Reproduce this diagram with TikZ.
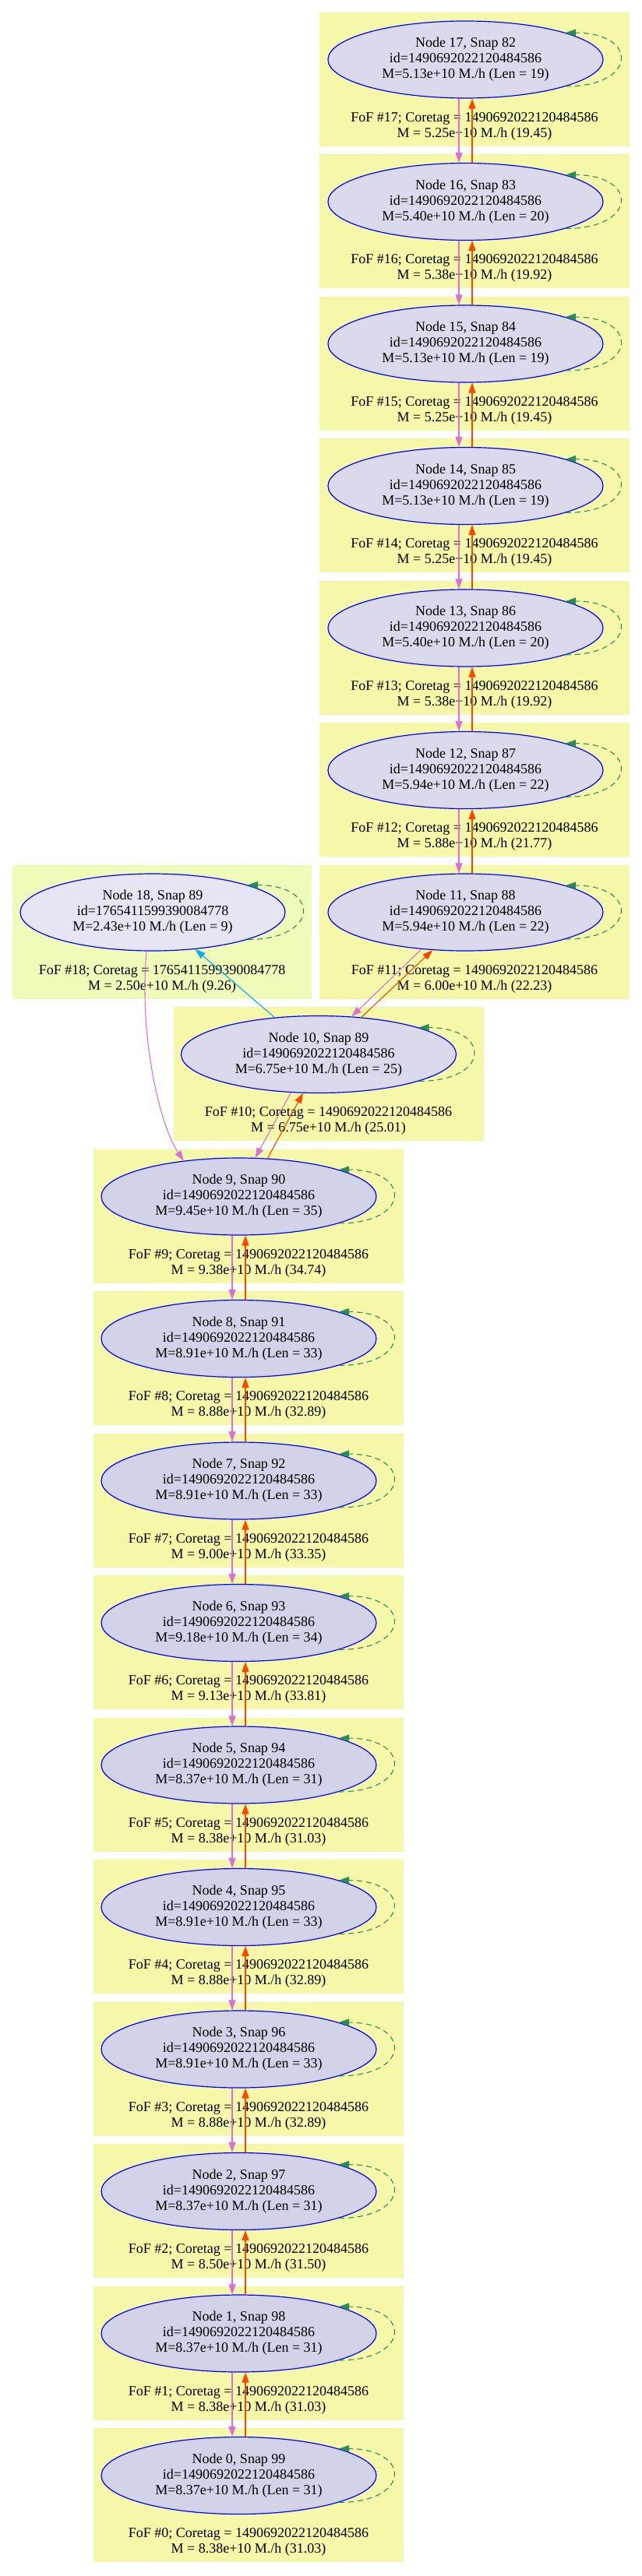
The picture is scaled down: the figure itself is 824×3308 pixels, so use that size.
\documentclass[tikz,border=0pt]{standalone}
\usepackage{fontspec}
\setmainfont{Liberation Serif}
\usetikzlibrary{arrows.meta,shapes.geometric}
\definecolor{fofyellow}{HTML}{F5F8A8}
\definecolor{fofgreen}{HTML}{EFFCB9}
\definecolor{halofill}{HTML}{DADAEC}
\definecolor{halofilllow}{HTML}{D2D3E8}
\definecolor{halofillalt}{HTML}{E6E5F4}
\definecolor{orchidline}{HTML}{DA70D6}
\definecolor{orangeline}{HTML}{FF4500}
\definecolor{loopgreen}{HTML}{2E8B57}
\begin{document}
\begin{tikzpicture}[x=1bp, y=1bp,
  txt/.style={font=\fontsize{18bp}{20bp}\selectfont, align=center},
  fofbox/.style={rectangle, fill=fofyellow, minimum width=398bp, minimum height=172bp, inner sep=0, outer sep=0},
  fofboxalt/.style={fofbox, fill=fofgreen, minimum width=384bp},
  halo/.style={txt, ellipse, draw=blue, line width=1.2bp, fill=halofill, minimum width=353bp, minimum height=99bp, inner sep=0},
  halolow/.style={halo, fill=halofilllow},
  haloalt/.style={halo, fill=halofillalt, minimum width=340bp},
  foflabel/.style={txt, inner sep=0},
  tip/.style={-{Triangle[length=13bp, width=9bp]}, line width=1.1bp},
  desc/.style={tip, orchidline},
  prog/.style={tip, orangeline},
  merge/.style={tip, cyan},
  selfloop/.style={tip, loopgreen, dash pattern=on 7bp off 5bp}]
\useasboundingbox (0,0) rectangle (824,-3308);
\node[fofbox] (fof17) at (609,-101.7){};
\node[fofbox] (fof16) at (609,-284.2){};
\node[fofbox] (fof15) at (609,-466.7){};
\node[fofbox] (fof14) at (609,-649.2){};
\node[fofbox] (fof13) at (609,-831.7){};
\node[fofbox] (fof12) at (609,-1014.2){};
\node[fofbox] (fof11) at (609,-1196.7){};
\node[fofboxalt] (fof18) at (208,-1196.7){};
\node[fofbox] (fof10) at (421.5,-1379.2){};
\node[fofbox] (fof9) at (319,-1561.7){};
\node[fofbox] (fof8) at (319,-1744.2){};
\node[fofbox] (fof7) at (319,-1926.7){};
\node[fofbox] (fof6) at (319,-2109.2){};
\node[fofbox] (fof5) at (319,-2291.7){};
\node[fofbox] (fof4) at (319,-2474.2){};
\node[fofbox] (fof3) at (319,-2656.7){};
\node[fofbox] (fof2) at (319,-2839.2){};
\node[fofbox] (fof1) at (319,-3021.7){};
\node[fofbox] (fof0) at (319,-3204.2){};
\node[foflabel] (lab17) at (609,-162.2){FoF \#17; Coretag = 1490692022120484586\\M = 5.25e+10 M./h (19.45)};
\node[foflabel] (lab16) at (609,-344.7){FoF \#16; Coretag = 1490692022120484586\\M = 5.38e+10 M./h (19.92)};
\node[foflabel] (lab15) at (609,-527.2){FoF \#15; Coretag = 1490692022120484586\\M = 5.25e+10 M./h (19.45)};
\node[foflabel] (lab14) at (609,-709.7){FoF \#14; Coretag = 1490692022120484586\\M = 5.25e+10 M./h (19.45)};
\node[foflabel] (lab13) at (609,-892.2){FoF \#13; Coretag = 1490692022120484586\\M = 5.38e+10 M./h (19.92)};
\node[foflabel] (lab12) at (609,-1074.7){FoF \#12; Coretag = 1490692022120484586\\M = 5.88e+10 M./h (21.77)};
\node[foflabel] (lab11) at (609,-1257.2){FoF \#11; Coretag = 1490692022120484586\\M = 6.00e+10 M./h (22.23)};
\node[foflabel] (lab18) at (208,-1257.2){FoF \#18; Coretag = 1765411599390084778\\M = 2.50e+10 M./h (9.26)};
\node[foflabel] (lab10) at (421.5,-1439.7){FoF \#10; Coretag = 1490692022120484586\\M = 6.75e+10 M./h (25.01)};
\node[foflabel] (lab9) at (319,-1622.2){FoF \#9; Coretag = 1490692022120484586\\M = 9.38e+10 M./h (34.74)};
\node[foflabel] (lab8) at (319,-1804.7){FoF \#8; Coretag = 1490692022120484586\\M = 8.88e+10 M./h (32.89)};
\node[foflabel] (lab7) at (319,-1987.2){FoF \#7; Coretag = 1490692022120484586\\M = 9.00e+10 M./h (33.35)};
\node[foflabel] (lab6) at (319,-2169.7){FoF \#6; Coretag = 1490692022120484586\\M = 9.13e+10 M./h (33.81)};
\node[foflabel] (lab5) at (319,-2352.2){FoF \#5; Coretag = 1490692022120484586\\M = 8.38e+10 M./h (31.03)};
\node[foflabel] (lab4) at (319,-2534.7){FoF \#4; Coretag = 1490692022120484586\\M = 8.88e+10 M./h (32.89)};
\node[foflabel] (lab3) at (319,-2717.2){FoF \#3; Coretag = 1490692022120484586\\M = 8.88e+10 M./h (32.89)};
\node[foflabel] (lab2) at (319,-2899.7){FoF \#2; Coretag = 1490692022120484586\\M = 8.50e+10 M./h (31.50)};
\node[foflabel] (lab1) at (319,-3082.2){FoF \#1; Coretag = 1490692022120484586\\M = 8.38e+10 M./h (31.03)};
\node[foflabel] (lab0) at (319,-3264.7){FoF \#0; Coretag = 1490692022120484586\\M = 8.38e+10 M./h (31.03)};
\node[halo] (nid17) at (597.5,-76.5){Node 17, Snap 82\\id=1490692022120484586\\M=5.13e+10 M./h (Len = 19)};
\node[halo] (nid16) at (597.5,-259){Node 16, Snap 83\\id=1490692022120484586\\M=5.40e+10 M./h (Len = 20)};
\node[halo] (nid15) at (597.5,-441.5){Node 15, Snap 84\\id=1490692022120484586\\M=5.13e+10 M./h (Len = 19)};
\node[halo] (nid14) at (597.5,-624){Node 14, Snap 85\\id=1490692022120484586\\M=5.13e+10 M./h (Len = 19)};
\node[halo] (nid13) at (597.5,-806.5){Node 13, Snap 86\\id=1490692022120484586\\M=5.40e+10 M./h (Len = 20)};
\node[halo] (nid12) at (597.5,-989){Node 12, Snap 87\\id=1490692022120484586\\M=5.94e+10 M./h (Len = 22)};
\node[halo] (nid11) at (597.5,-1171.5){Node 11, Snap 88\\id=1490692022120484586\\M=5.94e+10 M./h (Len = 22)};
\node[haloalt] (nid18) at (196,-1171.5){Node 18, Snap 89\\id=1765411599390084778\\M=2.43e+10 M./h (Len = 9)};
\node[halo] (nid10) at (409,-1354){Node 10, Snap 89\\id=1490692022120484586\\M=6.75e+10 M./h (Len = 25)};
\node[halolow] (nid9) at (306.5,-1536.5){Node 9, Snap 90\\id=1490692022120484586\\M=9.45e+10 M./h (Len = 35)};
\node[halolow] (nid8) at (306.5,-1719){Node 8, Snap 91\\id=1490692022120484586\\M=8.91e+10 M./h (Len = 33)};
\node[halolow] (nid7) at (306.5,-1901.5){Node 7, Snap 92\\id=1490692022120484586\\M=8.91e+10 M./h (Len = 33)};
\node[halolow] (nid6) at (306.5,-2084){Node 6, Snap 93\\id=1490692022120484586\\M=9.18e+10 M./h (Len = 34)};
\node[halolow] (nid5) at (306.5,-2266.5){Node 5, Snap 94\\id=1490692022120484586\\M=8.37e+10 M./h (Len = 31)};
\node[halolow] (nid4) at (306.5,-2449){Node 4, Snap 95\\id=1490692022120484586\\M=8.91e+10 M./h (Len = 33)};
\node[halolow] (nid3) at (306.5,-2631.5){Node 3, Snap 96\\id=1490692022120484586\\M=8.91e+10 M./h (Len = 33)};
\node[halolow] (nid2) at (306.5,-2814){Node 2, Snap 97\\id=1490692022120484586\\M=8.37e+10 M./h (Len = 31)};
\node[halolow] (nid1) at (306.5,-2996.5){Node 1, Snap 98\\id=1490692022120484586\\M=8.37e+10 M./h (Len = 31)};
\node[halolow] (nid0) at (306.5,-3179){Node 0, Snap 99\\id=1490692022120484586\\M=8.37e+10 M./h (Len = 31)};
\draw[desc]([xshift=-8.5bp]nid17.south) -- ([xshift=-8.5bp]nid16.north);
\draw[prog]([xshift=8.5bp]nid16.north) -- ([xshift=8.5bp]nid17.south);
\draw[desc]([xshift=-8.5bp]nid16.south) -- ([xshift=-8.5bp]nid15.north);
\draw[prog]([xshift=8.5bp]nid15.north) -- ([xshift=8.5bp]nid16.south);
\draw[desc]([xshift=-8.5bp]nid15.south) -- ([xshift=-8.5bp]nid14.north);
\draw[prog]([xshift=8.5bp]nid14.north) -- ([xshift=8.5bp]nid15.south);
\draw[desc]([xshift=-8.5bp]nid14.south) -- ([xshift=-8.5bp]nid13.north);
\draw[prog]([xshift=8.5bp]nid13.north) -- ([xshift=8.5bp]nid14.south);
\draw[desc]([xshift=-8.5bp]nid13.south) -- ([xshift=-8.5bp]nid12.north);
\draw[prog]([xshift=8.5bp]nid12.north) -- ([xshift=8.5bp]nid13.south);
\draw[desc]([xshift=-8.5bp]nid12.south) -- ([xshift=-8.5bp]nid11.north);
\draw[prog]([xshift=8.5bp]nid11.north) -- ([xshift=8.5bp]nid12.south);
\draw[desc](nid11.-140) -- (nid10.49);
\draw[prog](nid10.41) -- (nid11.-131);
\draw[merge](nid10.140) -- (nid18.-41);
\draw[desc](nid18.-99) .. controls +(-10,-108) and +(-31,46) .. (nid9.147);
\draw[desc](nid10.-126) -- (nid9.67);
\draw[prog](nid9.53) -- (nid10.-112);
\draw[desc]([xshift=-8.5bp]nid9.south) -- ([xshift=-8.5bp]nid8.north);
\draw[prog]([xshift=8.5bp]nid8.north) -- ([xshift=8.5bp]nid9.south);
\draw[desc]([xshift=-8.5bp]nid8.south) -- ([xshift=-8.5bp]nid7.north);
\draw[prog]([xshift=8.5bp]nid7.north) -- ([xshift=8.5bp]nid8.south);
\draw[desc]([xshift=-8.5bp]nid7.south) -- ([xshift=-8.5bp]nid6.north);
\draw[prog]([xshift=8.5bp]nid6.north) -- ([xshift=8.5bp]nid7.south);
\draw[desc]([xshift=-8.5bp]nid6.south) -- ([xshift=-8.5bp]nid5.north);
\draw[prog]([xshift=8.5bp]nid5.north) -- ([xshift=8.5bp]nid6.south);
\draw[desc]([xshift=-8.5bp]nid5.south) -- ([xshift=-8.5bp]nid4.north);
\draw[prog]([xshift=8.5bp]nid4.north) -- ([xshift=8.5bp]nid5.south);
\draw[desc]([xshift=-8.5bp]nid4.south) -- ([xshift=-8.5bp]nid3.north);
\draw[prog]([xshift=8.5bp]nid3.north) -- ([xshift=8.5bp]nid4.south);
\draw[desc]([xshift=-8.5bp]nid3.south) -- ([xshift=-8.5bp]nid2.north);
\draw[prog]([xshift=8.5bp]nid2.north) -- ([xshift=8.5bp]nid3.south);
\draw[desc]([xshift=-8.5bp]nid2.south) -- ([xshift=-8.5bp]nid1.north);
\draw[prog]([xshift=8.5bp]nid1.north) -- ([xshift=8.5bp]nid2.south);
\draw[desc]([xshift=-8.5bp]nid1.south) -- ([xshift=-8.5bp]nid0.north);
\draw[prog]([xshift=8.5bp]nid0.north) -- ([xshift=8.5bp]nid1.south);
\draw[selfloop](nid17.-15) .. controls +(93,0) and +(93,0) .. (nid17.15);
\draw[selfloop](nid16.-15) .. controls +(93,0) and +(93,0) .. (nid16.15);
\draw[selfloop](nid15.-15) .. controls +(93,0) and +(93,0) .. (nid15.15);
\draw[selfloop](nid14.-15) .. controls +(93,0) and +(93,0) .. (nid14.15);
\draw[selfloop](nid13.-15) .. controls +(93,0) and +(93,0) .. (nid13.15);
\draw[selfloop](nid12.-15) .. controls +(93,0) and +(93,0) .. (nid12.15);
\draw[selfloop](nid11.-15) .. controls +(93,0) and +(93,0) .. (nid11.15);
\draw[selfloop](nid18.-16) .. controls +(93,0) and +(93,0) .. (nid18.16);
\draw[selfloop](nid10.-15) .. controls +(93,0) and +(93,0) .. (nid10.15);
\draw[selfloop](nid9.-15) .. controls +(93,0) and +(93,0) .. (nid9.15);
\draw[selfloop](nid8.-15) .. controls +(93,0) and +(93,0) .. (nid8.15);
\draw[selfloop](nid7.-15) .. controls +(93,0) and +(93,0) .. (nid7.15);
\draw[selfloop](nid6.-15) .. controls +(93,0) and +(93,0) .. (nid6.15);
\draw[selfloop](nid5.-15) .. controls +(93,0) and +(93,0) .. (nid5.15);
\draw[selfloop](nid4.-15) .. controls +(93,0) and +(93,0) .. (nid4.15);
\draw[selfloop](nid3.-15) .. controls +(93,0) and +(93,0) .. (nid3.15);
\draw[selfloop](nid2.-15) .. controls +(93,0) and +(93,0) .. (nid2.15);
\draw[selfloop](nid1.-15) .. controls +(93,0) and +(93,0) .. (nid1.15);
\draw[selfloop](nid0.-15) .. controls +(93,0) and +(93,0) .. (nid0.15);
\end{tikzpicture}
\end{document}
